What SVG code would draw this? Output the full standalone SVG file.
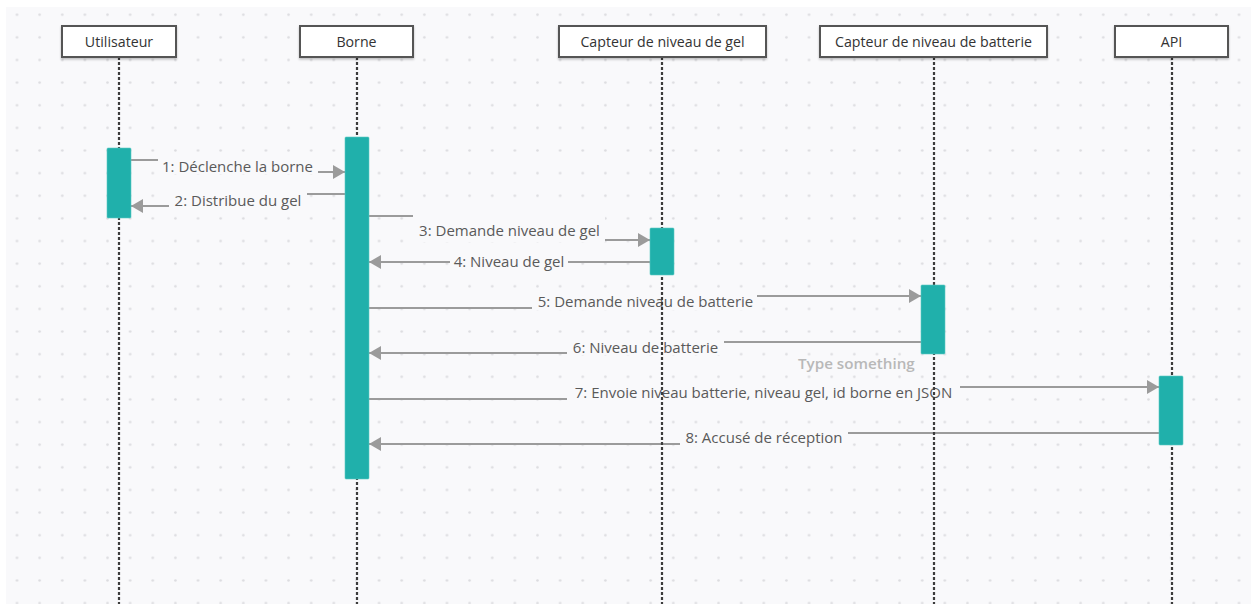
<svg xmlns="http://www.w3.org/2000/svg" width="1251" height="606" viewBox="0 0 1251 606">
  <defs>
    <pattern id="dots" x="5.7" y="3.4" width="22.63" height="22.63" patternUnits="userSpaceOnUse">
      <circle cx="11.3" cy="11.3" r="1.3" fill="#dcdce0"/>
    </pattern>
    <marker id="arrow" viewBox="0 0 12 14" refX="12" refY="7" markerWidth="12" markerHeight="14" markerUnits="userSpaceOnUse" orient="auto">
      <path d="M0 0 L12 7 L0 14 Z" fill="#9b9b9b"/>
    </marker>
    <filter id="shadow" x="-10%" y="-20%" width="120%" height="150%">
      <feDropShadow dx="0" dy="1.5" stdDeviation="1.2" flood-color="#000" flood-opacity="0.25"/>
    </filter>
  </defs>
  <style>
    .head rect { fill: #ffffff; stroke: #555555; stroke-width: 2; }
    .head text { font-family: "Open Sans", "Noto Sans", sans-serif; font-size: 14.2px; fill: #333333; text-anchor: middle; }
    .life { stroke: #3c3c3c; stroke-width: 2.2; stroke-dasharray: 3 2; fill: none; }
    .act { fill: #20b0ab; stroke: #5cc9c4; stroke-width: 0.6; }
    .msg { stroke: #9b9b9b; stroke-width: 2; fill: none; }
    .lbl { font-family: "Open Sans", "Noto Sans", sans-serif; font-size: 15px; fill: #5a5a5a; text-anchor: middle; }
    .lblbg { fill: #f9f9fb; }
    .hint { font-family: "Open Sans", "Noto Sans", sans-serif; font-size: 15.2px; font-weight: 600; fill: #b8b8b8; }
  </style>

  <!-- canvas -->
  <rect x="0" y="0" width="1251" height="606" fill="#ffffff"/>
  <rect x="6" y="7" width="1245" height="597" fill="#f9f9fb"/>
  <rect x="6" y="7" width="1245" height="597" fill="url(#dots)"/>

  <!-- messages: each label sits on a patch that hides the connector's step -->
  <g id="connectors">
    <path class="msg" d="M131 160 H237 V172 H345" marker-end="url(#arrow)"/>
    <rect class="lblbg" x="158" y="158" width="160" height="16"/>
    <text class="lbl" x="237.5" y="172">1: Déclenche la borne</text>

    <path class="msg" d="M345 194 H238 V206 H131" marker-end="url(#arrow)"/>
    <rect class="lblbg" x="169" y="192" width="138" height="16"/>
    <text class="lbl" x="238" y="206">2: Distribue du gel</text>

    <path class="msg" d="M369 216 H509 V240 H650" marker-end="url(#arrow)"/>
    <rect class="lblbg" x="413" y="214" width="192" height="28"/>
    <text class="lbl" x="509.5" y="236">3: Demande niveau de gel</text>

    <path class="msg" d="M650 262 H369" marker-end="url(#arrow)"/>
    <rect class="lblbg" x="450" y="253" width="118" height="18"/>
    <text class="lbl" x="509" y="267">4: Niveau de gel</text>

    <path class="msg" d="M369 308 H645 V296 H921" marker-end="url(#arrow)"/>
    <rect class="lblbg" x="532" y="294" width="225" height="16"/>
    <text class="lbl" x="645.5" y="307">5: Demande niveau de batterie</text>

    <path class="msg" d="M921 342 H645 V353 H369" marker-end="url(#arrow)"/>
    <rect class="lblbg" x="567" y="340" width="157" height="15"/>
    <text class="lbl" x="645.5" y="353">6: Niveau de batterie</text>

    <path class="msg" d="M369 399 H763 V387 H1159" marker-end="url(#arrow)"/>
    <rect class="lblbg" x="567" y="385" width="393" height="16"/>
    <text class="lbl" x="763.5" y="398">7: Envoie niveau batterie, niveau gel, id borne en JSON</text>

    <path class="msg" d="M1159 433 H764 V444 H369" marker-end="url(#arrow)"/>
    <rect class="lblbg" x="680" y="431" width="168" height="15"/>
    <text class="lbl" x="764" y="443">8: Accusé de réception</text>

    <text class="hint" x="798" y="369">Type something</text>
  </g>

  <!-- participants -->
  <g id="utilisateur">
    <line class="life" x1="119" y1="57" x2="119" y2="604"/>
    <rect class="act" x="107" y="148" width="24" height="70" rx="1"/>
    <g class="head"><rect x="62" y="26" width="114" height="31" filter="url(#shadow)"/><text x="119" y="46.5">Utilisateur</text></g>
  </g>

  <g id="borne">
    <line class="life" x1="357" y1="57" x2="357" y2="604"/>
    <rect class="act" x="345" y="137" width="24" height="342" rx="1"/>
    <g class="head"><rect x="300" y="26" width="113" height="31" filter="url(#shadow)"/><text x="356.5" y="46.5">Borne</text></g>
  </g>

  <g id="capteur-gel">
    <line class="life" x1="662" y1="57" x2="662" y2="604"/>
    <rect class="act" x="650" y="228" width="24" height="47" rx="1"/>
    <g class="head"><rect x="559" y="26" width="207" height="31" filter="url(#shadow)"/><text x="662.5" y="46.5">Capteur de niveau de gel</text></g>
  </g>

  <g id="capteur-batterie">
    <line class="life" x1="934" y1="57" x2="934" y2="604"/>
    <rect class="act" x="921" y="285" width="24" height="69" rx="1"/>
    <g class="head"><rect x="820" y="26" width="227" height="31" filter="url(#shadow)"/><text x="933.5" y="46.5">Capteur de niveau de batterie</text></g>
  </g>

  <g id="api">
    <line class="life" x1="1172" y1="57" x2="1172" y2="604"/>
    <rect class="act" x="1159" y="376" width="24" height="69" rx="1"/>
    <g class="head"><rect x="1115" y="26" width="113" height="31" filter="url(#shadow)"/><text x="1171.5" y="46.5">API</text></g>
  </g>
</svg>
